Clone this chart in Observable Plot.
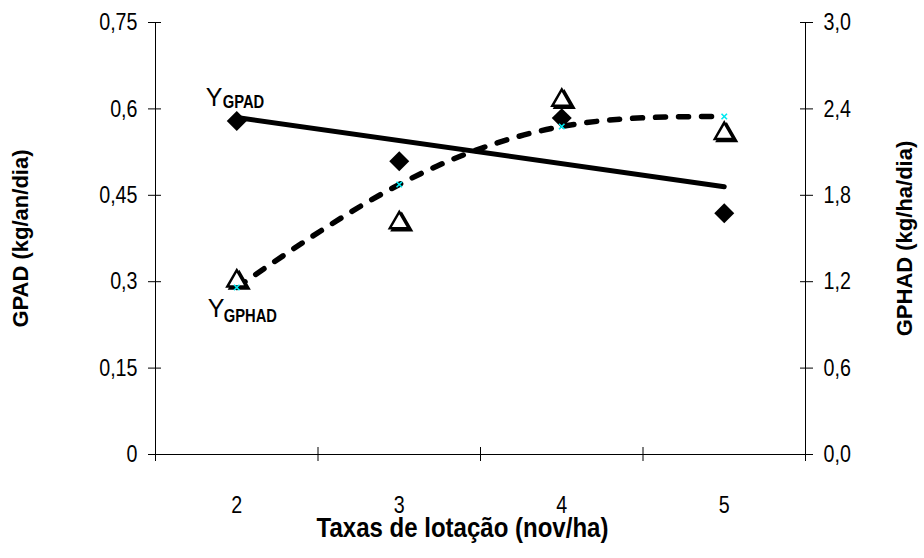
<!DOCTYPE html>
<html>
<head>
<meta charset="utf-8">
<script src="https://cdn.jsdelivr.net/npm/d3@7"></script>
<script src="https://cdn.jsdelivr.net/npm/@observablehq/plot@0.6"></script>
<style>
  html, body { margin: 0; padding: 0; background: #fff; }
  #chart svg { display: block; }
</style>
</head>
<body>
<div id="chart"></div>
<script>
// ---- data ----
const stockingRates = [2, 3, 4, 5];                 // Taxas de lotação (nov/ha)
const gpad = [0.579, 0.509, 0.584, 0.419];          // GPAD observed (left axis)
const gphad = [1.225, 1.63, 2.48, 2.25];            // GPHAD observed (right axis)
const gphadFit = [1.16, 1.875, 2.278, 2.347];       // GPHAD fitted (cyan marks, dashed curve)
const gpadTrendX = [2, 5];
const gpadTrend = [0.585, 0.465];                   // GPAD linear trend end values
const leftTicks = [0, 0.15, 0.3, 0.45, 0.6, 0.75];
const leftTickLabels = ["0", "0,15", "0,3", "0,45", "0,6", "0,75"];
const rightTicks = [0, 0.6, 1.2, 1.8, 2.4, 3.0];
const rightTickLabels = ["0,0", "0,6", "1,2", "1,8", "2,4", "3,0"];
const xTickLabels = ["2", "3", "4", "5"];
const xBoundaries = [1.5, 2.5, 3.5, 4.5, 5.5];

// right axis (0–3.0) mapped onto the left axis (0–0.75)
const ratio = 0.75 / 3.0;
const rightTickPos = rightTicks.map(v => v * ratio);
const xMin = xBoundaries[0], xMax = xBoundaries[xBoundaries.length - 1];

const obs = stockingRates.map((x, i) => ({x, gpad: gpad[i], gphad: gphad[i] * ratio}));
const fit = stockingRates.map((x, i) => ({x, y: gphadFit[i] * ratio}));
const trend = gpadTrendX.map((x, i) => ({x, y: gpadTrend[i]}));

const font = "'Liberation Sans', Arial, sans-serif";
const blank = () => "";
const tag = name => () => name;   // per-element aria-label used to find narrow texts

const chart = Plot.plot({
  width: 924,
  height: 558,
  marginLeft: 155,
  marginRight: 119,
  marginTop: 22,
  marginBottom: 104,
  x: {type: "linear", domain: [xMin, xMax], axis: null},
  y: {type: "linear", domain: [0, 0.75], axis: null},
  style: {fontFamily: font, fontSize: "20px", background: "white", color: "black", overflow: "visible"},
  marks: [
    // axis lines
    Plot.ruleX([xMin, xMax], {stroke: "black", strokeWidth: 1}),
    Plot.ruleY([0], {stroke: "black", strokeWidth: 1}),
    // crossing tick marks
    Plot.axisY({anchor: "left", ticks: leftTicks, tickSize: 13, dx: 6, tickFormat: blank, label: null, stroke: "black"}),
    Plot.axisY({anchor: "right", ticks: rightTickPos, tickSize: 13, dx: -6, tickFormat: blank, label: null, stroke: "black"}),
    Plot.axisX({anchor: "bottom", ticks: xBoundaries, tickSize: 14, dy: -7, tickFormat: blank, label: null, stroke: "black"}),
    // tick labels
    Plot.text(leftTicks, {x: () => xMin, y: d => d, text: (d, i) => leftTickLabels[i], textAnchor: "end", dx: -18, fontSize: 24, ariaLabel: tag("narrow-tick")}),
    Plot.text(rightTickPos, {x: () => xMax, y: d => d, text: (d, i) => rightTickLabels[i], textAnchor: "start", dx: 18, fontSize: 24, ariaLabel: tag("narrow-tick")}),
    Plot.text(stockingRates, {x: d => d, y: () => 0, text: (d, i) => xTickLabels[i], lineAnchor: "top", dy: 41, fontSize: 24, ariaLabel: tag("narrow-tick")}),
    // axis titles
    Plot.text(["GPAD (kg/an/dia)"], {frameAnchor: "left", textAnchor: "middle", lineAnchor: "middle", dx: -135, rotate: -90, fontSize: 22, fontWeight: "bold"}),
    Plot.text(["GPHAD (kg/ha/dia)"], {frameAnchor: "right", textAnchor: "middle", lineAnchor: "middle", dx: 99, rotate: -90, fontSize: 22, fontWeight: "bold"}),
    Plot.text(["Taxas de lotação (nov/ha)"], {frameAnchor: "bottom", textAnchor: "middle", lineAnchor: "middle", dx: -18, dy: 74, fontSize: 27, fontWeight: "bold", ariaLabel: tag("narrow-title")}),
    // fitted curves
    Plot.line(trend, {x: "x", y: "y", stroke: "black", strokeWidth: 5}),
    Plot.line(fit, {x: "x", y: "y", curve: "natural", stroke: "black", strokeWidth: 5.5, strokeDasharray: "10,13"}),
    // GPHAD observed: open triangles with shadow
    Plot.dot(obs, {x: "x", y: "gphad", symbol: "triangle", r: 7, fill: "black", stroke: "black", strokeWidth: 2.5, dx: 2.5, dy: 5}),
    Plot.dot(obs, {x: "x", y: "gphad", symbol: "triangle", r: 7, fill: "white", stroke: "black", strokeWidth: 2.5, dy: 3}),
    // GPAD observed: filled diamonds
    Plot.dot(obs, {x: "x", y: "gpad", symbol: "diamond2", r: 9, fill: "black", stroke: "none"}),
    // GPHAD fitted: cyan crosses
    Plot.dot(fit, {x: "x", y: "y", symbol: "times", r: 2.6, stroke: "#00e8f0", strokeWidth: 1.6}),
    // equation labels
    Plot.text([0], {x: () => stockingRates[0], y: () => gpad[0], text: () => "Y", textAnchor: "start", dx: -31, dy: -23, fontSize: 25}),
    Plot.text([0], {x: () => stockingRates[0], y: () => gpad[0], text: () => "GPAD", textAnchor: "start", dx: -14, dy: -18.5, fontSize: 18, fontWeight: "bold", ariaLabel: tag("narrow-sub")}),
    Plot.text([0], {x: () => stockingRates[0], y: () => gphad[0] * ratio, text: () => "Y", textAnchor: "start", dx: -29, dy: 31, fontSize: 25}),
    Plot.text([0], {x: () => stockingRates[0], y: () => gphad[0] * ratio, text: () => "GPHAD", textAnchor: "start", dx: -13, dy: 38, fontSize: 18, fontWeight: "bold", ariaLabel: tag("narrow-sub")})
  ]
});
document.getElementById("chart").appendChild(chart);

// horizontally condense the texts that use a narrow typeface in the original
function condense(selector, f) {
  chart.querySelectorAll(selector).forEach(t => {
    const bb = t.getBBox();
    if (!bb.width) return;
    const anchor = getComputedStyle(t).textAnchor;
    const ax = anchor === "end" ? bb.x + bb.width : anchor === "middle" ? bb.x + bb.width / 2 : bb.x;
    const prev = t.getAttribute("transform") || "";
    t.setAttribute("transform", `${prev} translate(${ax},0) scale(${f},1) translate(${-ax},0)`.trim());
  });
}
condense('text[aria-label="narrow-tick"]', 0.82);
condense('text[aria-label="narrow-title"]', 0.89);
condense('text[aria-label="narrow-sub"]', 0.82);
</script>
</body>
</html>
